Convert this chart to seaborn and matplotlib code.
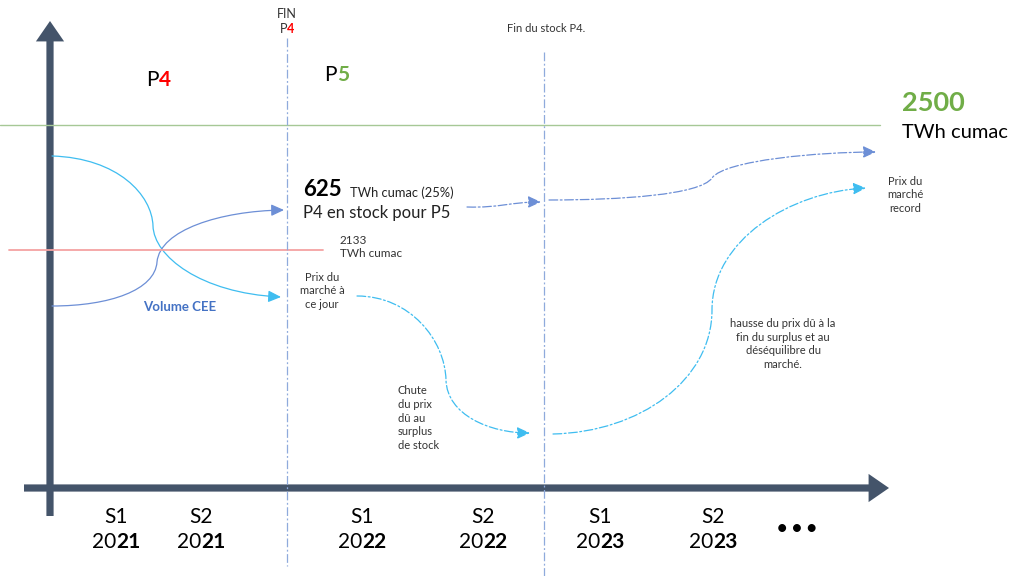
import matplotlib
matplotlib.use("Agg")
import matplotlib.pyplot as plt
import seaborn as sns
from matplotlib.path import Path
from matplotlib.patches import FancyArrowPatch

# schematic data (image pixel space, y grows downward)
period_labels = ["S1", "S2", "S1", "S2", "S1", "S2"]
year_start = ["20", "20", "20", "20", "20", "20"]
year_end = ["21", "21", "22", "22", "23", "23"]
period_x = [116, 201, 362, 483, 600, 713]

objective_level = 125      # 2500 TWh cumac
reached_level = 250        # 2133 TWh cumac
phase_change_x = [287, 544]  # fin P4, fin du stock P4

# bezier anchor points of the curves (start, ctrl, ctrl, end, ctrl, ctrl, end)
volume_drop_path = [(52, 156), (118, 158), (152, 195), (153, 226),
                    (154, 256), (200, 293), (281, 297)]
volume_rise_path = [(52, 306), (110, 306), (155, 290), (157, 262),
                    (160, 230), (220, 211), (284, 210)]
stock_path_a = [(467, 207), (500, 208), (510, 202), (541, 202)]
stock_path_b = [(549, 200), (620, 200), (700, 195), (712, 178),
                (725, 160), (820, 152), (876, 152)]
price_drop_path = [(357, 296), (410, 296), (445, 340), (446, 380),
                   (447, 415), (490, 433), (530, 433)]
price_rise_path = [(553, 434), (640, 432), (712, 380), (712, 310),
                   (712, 240), (790, 192), (866, 188)]

DARK = "#44546a"
CYAN = "#3fbdf0"
BLUE = "#4472c4"
GREEN = "#70ad47"
RED = "#ff0000"

sns.set_theme(style="white")
plt.rcParams["font.family"] = ["Lato", "DejaVu Sans"]

fig = plt.figure(figsize=(10.24, 5.76), dpi=100)
ax = fig.add_axes([0, 0, 1, 1])
ax.set_xlim(0, 1024)
ax.set_ylim(576, 0)
ax.axis("off")


def curve(points, color, ls="-", lw=0.9):
    codes = [Path.MOVETO] + [Path.CURVE4] * (len(points) - 1)
    p = FancyArrowPatch(path=Path(points, codes),
                        arrowstyle="-|>,head_length=0.7,head_width=0.32",
                        mutation_scale=11, color=color, lw=lw,
                        linestyle=ls, shrinkA=0, shrinkB=0)
    ax.add_patch(p)


dashdot = (0, (7, 2, 1.5, 2))

# reference lines
ax.plot([0, 880], [objective_level] * 2, color="#a6c896", lw=1.0)
ax.plot([9, 323], [reached_level] * 2, color="#f4a3a3", lw=1.3)
ax.plot([phase_change_x[0]] * 2, [38, 566], color="#8faadc", lw=0.9, ls=dashdot)
ax.plot([phase_change_x[1]] * 2, [52, 576], color="#8faadc", lw=0.9, ls=dashdot)

# axes arrows
for start, end in [((50, 516), (50, 21)), ((24, 488), (889, 488))]:
    ax.add_patch(FancyArrowPatch(start, end,
                                 arrowstyle="simple,head_length=1.05,head_width=1.45,tail_width=0.37",
                                 mutation_scale=14, color=DARK, lw=0,
                                 shrinkA=0, shrinkB=0))

# curves
curve(volume_drop_path, CYAN)
curve(volume_rise_path, "#6d8fd6")
curve(stock_path_a, "#6d8fd6", ls=dashdot)
curve(stock_path_b, "#6d8fd6", ls=dashdot)
curve(price_drop_path, CYAN, ls=dashdot)
curve(price_rise_path, CYAN, ls=dashdot)

# period headers
ax.text(287, 14, "FIN", ha="center", va="center", fontsize=9, color="#333333")
ax.text(287, 29, "P", ha="right", va="center", fontsize=9, color="#333333")
ax.text(287, 29, "4", ha="left", va="center", fontsize=9, color=RED, fontweight="bold")
ax.text(546, 28, "Fin du stock P4.", ha="center", va="center", fontsize=8, color="#333333")
ax.text(159, 80, "P", ha="right", va="center", fontsize=15, color="black")
ax.text(159, 80, "4", ha="left", va="center", fontsize=15, color=RED, fontweight="bold")
ax.text(337, 75, "P", ha="right", va="center", fontsize=15, color="black")
ax.text(337, 75, "5", ha="left", va="center", fontsize=15, color=GREEN, fontweight="bold")

# annotations
ax.text(902, 103, "2500", ha="left", va="center", fontsize=19.5, color=GREEN, fontweight="bold")
ax.text(902, 133, "TWh cumac", ha="left", va="center", fontsize=14.5, color="black")
ax.text(303, 190, "625", ha="left", va="center", fontsize=16, color="black", fontweight="bold")
ax.text(350, 193, "TWh cumac (25%)", ha="left", va="center", fontsize=9.3, color="#222222")
ax.text(303, 213, "P4 en stock pour P5", ha="left", va="center", fontsize=12, color="#222222")
ax.text(340, 247, "2133\nTWh cumac", ha="left", va="center", fontsize=8.5,
        color="#333333", linespacing=1.15)
ax.text(322, 291, "Prix du\nmarché à\nce jour", ha="center", va="center", fontsize=8,
        color="#333333", linespacing=1.3)
ax.text(180, 307, "Volume CEE", ha="center", va="center", fontsize=9.5,
        color=BLUE, fontweight="bold")
ax.text(398, 418, "Chute\ndu prix\ndû au\nsurplus\nde stock", ha="left", va="center",
        fontsize=8, color="#333333", linespacing=1.3)
ax.text(783, 344, "hausse du prix dû à la\nfin du surplus et au\ndéséquilibre du\nmarché.",
        ha="center", va="center", fontsize=8, color="#333333", linespacing=1.3)
ax.text(905, 195, "Prix du\nmarché\nrecord", ha="center", va="center", fontsize=8,
        color="#333333", linespacing=1.3)

# time labels
for x, s, y0, y1 in zip(period_x, period_labels, year_start, year_end):
    ax.text(x, 517, s, ha="center", va="center", fontsize=15, color="black")
    ax.text(x, 542, y0, ha="right", va="center", fontsize=15, color="black")
    ax.text(x, 542, y1, ha="left", va="center", fontsize=15, color="black", fontweight="bold")
ax.text(797, 528, "• • •", ha="center", va="center", fontsize=13, color="black",
        fontweight="bold")

fig.savefig("out.png", dpi=100)
